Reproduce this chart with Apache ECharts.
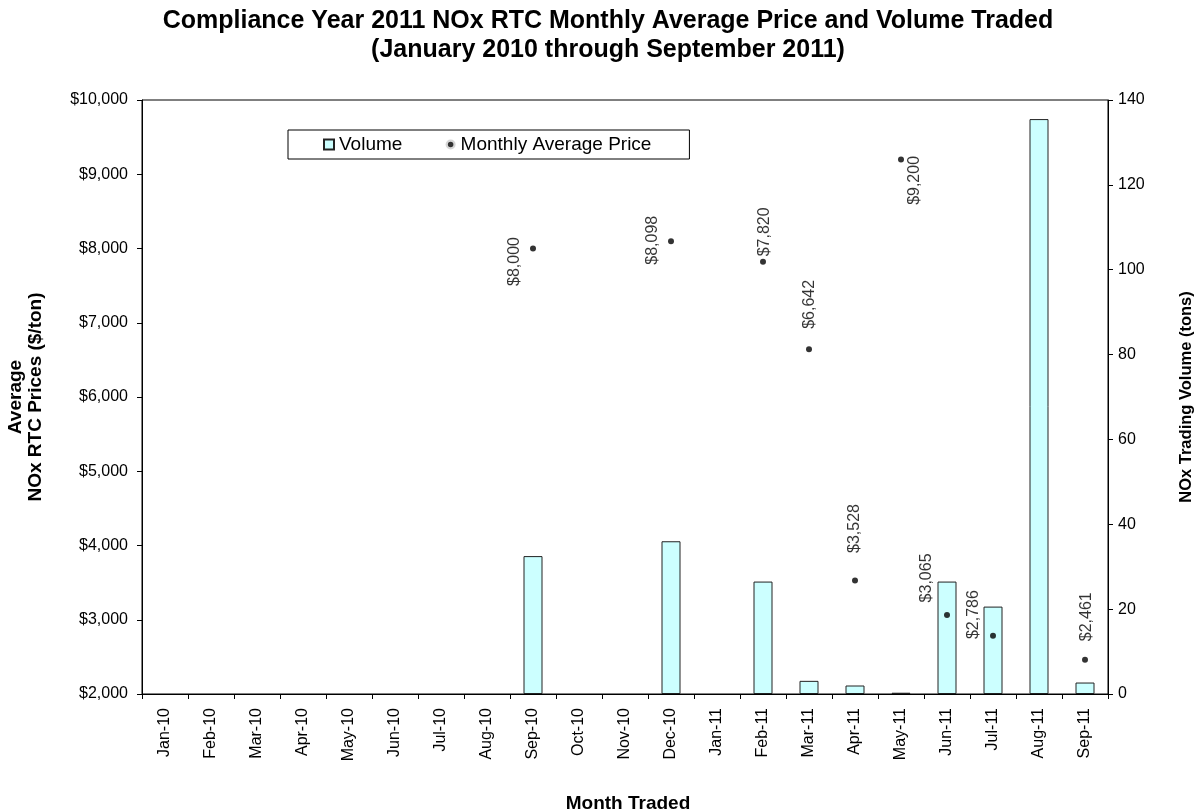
<!DOCTYPE html>
<html>
<head>
<meta charset="utf-8">
<script src="https://cdn.jsdelivr.net/npm/echarts@6/dist/echarts.min.js"></script>
<style>
html,body{margin:0;padding:0;background:#fff;}
#chart{width:1204px;height:810px;}
</style>
</head>
<body>
<div id="chart"></div>
<script>
// ---- data ----
const months = ['Jan-10','Feb-10','Mar-10','Apr-10','May-10','Jun-10','Jul-10','Aug-10','Sep-10','Oct-10','Nov-10','Dec-10',
                'Jan-11','Feb-11','Mar-11','Apr-11','May-11','Jun-11','Jul-11','Aug-11','Sep-11'];
const volume = ['-','-','-','-','-','-','-','-',32.5,'-','-',36,'-',26.5,3.1,2,0.3,26.5,20.6,135.5,2.7];
const price  = ['-','-','-','-','-','-','-','-',8000,'-','-',8098,'-',7820,6642,3528,9200,3065,2786,'-',2461];
const priceTicks = [2000, 10000, 1000];
const volumeTicks = [0, 140, 20];

// ---- layout: screen shift of each value label's centre from its dot [dx, dy] ----
const labelShift = {
  'Sep-10': [-18, 13], 'Dec-10': [-18, -1], 'Feb-11': [2, -30], 'Mar-11': [1, -45],
  'Apr-11': [0, -52], 'May-11': [14, 21], 'Jun-11': [-20, -37], 'Jul-11': [-19, -21], 'Sep-11': [2, -43]
};

const FONT = 'Liberation Sans, Arial, sans-serif';
const fmtMoney = v => '$' + Number(v).toLocaleString('en-US');

const priceData = price.map((v, i) => {
  if (v === '-') return '-';
  const s = labelShift[months[i]] || [0, 0];
  // label is rotated 90deg, so its offset is expressed in the rotated frame
  return { value: v, label: { offset: [-s[1], s[0]] } };
});

const chart = echarts.init(document.getElementById('chart'), null, { renderer: 'canvas' });
chart.setOption({
  backgroundColor: '#ffffff',
  animation: false,
  textStyle: { fontFamily: FONT },
  title: {
    text: 'Compliance Year 2011 NOx RTC Monthly Average Price and Volume Traded\n(January 2010 through September 2011)',
    left: 603, top: 2, textAlign: 'center',
    textStyle: { fontFamily: FONT, fontSize: 25, fontWeight: 'bold', lineHeight: 29, color: '#000' }
  },
  legend: {
    left: 288, top: 130,
    orient: 'horizontal',
    padding: [5, 38, 5, 35],
    itemGap: 41,
    itemWidth: 10, itemHeight: 10,
    borderColor: '#000', borderWidth: 1,
    backgroundColor: '#fff',
    textStyle: { fontFamily: FONT, fontSize: 19, color: '#000' },
    data: [
      { name: 'Volume', icon: 'rect' },
      { name: 'Monthly Average Price', icon: 'circle', itemStyle: { color: '#000', borderColor: '#fff', borderWidth: 4.5 } }
    ]
  },
  grid: { left: 142, right: 96, top: 100, bottom: 116, show: true, borderColor: '#000', borderWidth: 1,
          containLabel: false, outerBoundsMode: 'none' },
  xAxis: {
    type: 'category',
    data: months,
    name: 'Month Traded',
    nameLocation: 'middle',
    nameGap: 100,
    nameTextStyle: { fontFamily: FONT, fontSize: 19, fontWeight: 'bold', color: '#000', padding: [0, 0, 0, 6] },
    axisLine: { lineStyle: { color: '#000', width: 1 } },
    axisTick: { show: true, alignWithLabel: false, length: 5, lineStyle: { color: '#000' } },
    axisLabel: { rotate: 90, interval: 0, fontFamily: FONT, fontSize: 16, color: '#000', margin: 14 },
    splitLine: { show: false }
  },
  yAxis: [
    {
      type: 'value',
      position: 'left',
      min: priceTicks[0], max: priceTicks[1], interval: priceTicks[2],
      name: 'Average\nNOx RTC Prices ($/ton)',
      nameLocation: 'middle',
      nameRotate: 90,
      nameGap: 96,
      nameTextStyle: { fontFamily: FONT, fontSize: 19, fontWeight: 'bold', color: '#000', lineHeight: 20, align: 'center' },
      axisLine: { show: true, lineStyle: { color: '#000' } },
      axisTick: { show: true, length: 5, lineStyle: { color: '#000' } },
      axisLabel: { formatter: fmtMoney, fontFamily: FONT, fontSize: 16, color: '#000', margin: 14 },
      splitLine: { show: false }
    },
    {
      type: 'value',
      position: 'right',
      min: volumeTicks[0], max: volumeTicks[1], interval: volumeTicks[2],
      name: 'NOx Trading Volume (tons)',
      nameLocation: 'middle',
      nameRotate: 90,
      nameGap: 70,
      nameTextStyle: { fontFamily: FONT, fontSize: 16.5, fontWeight: 'bold', color: '#000' },
      axisLine: { show: true, lineStyle: { color: '#000' } },
      axisTick: { show: true, length: 5, lineStyle: { color: '#000' } },
      axisLabel: { fontFamily: FONT, fontSize: 16, color: '#000', margin: 10 },
      splitLine: { show: false }
    }
  ],
  series: [
    {
      name: 'Volume',
      type: 'bar',
      yAxisIndex: 1,
      data: volume,
      barWidth: 19,
      itemStyle: { color: '#CCFFFF', borderColor: '#222', borderWidth: 1 },
      z: 2
    },
    {
      name: 'Monthly Average Price',
      type: 'scatter',
      yAxisIndex: 0,
      data: priceData,
      symbol: 'circle',
      symbolSize: 6,
      itemStyle: { color: '#000' },
      label: {
        show: true,
        position: 'inside',
        rotate: 90,
        align: 'center',
        verticalAlign: 'middle',
        formatter: p => fmtMoney(p.value),
        fontFamily: FONT, fontSize: 16, color: '#000'
      },
      z: 3
    }
  ]
});
</script>
</body>
</html>
